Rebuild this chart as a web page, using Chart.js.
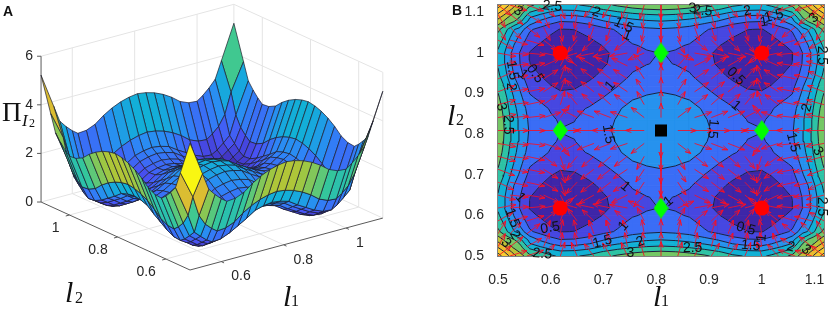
<!DOCTYPE html>
<html>
<head>
<meta charset="utf-8">
<title>Potential surface and contours</title>
<script src="https://cdn.jsdelivr.net/npm/chart.js@4"></script>
<style>
  html, body { margin: 0; padding: 0; background: #fff; }
  #wrap { position: relative; width: 829px; height: 309px; overflow: hidden; }
  canvas { position: absolute; top: 0; }
  #surfaceChart { left: 0; }
  #contourChart { left: 440px; }
</style>
</head>
<body>
<div id="wrap">
  <canvas id="surfaceChart" width="440" height="309"></canvas>
  <canvas id="contourChart" width="389" height="309"></canvas>
</div>
<script>
// --- Data ---
// l values of one quarter of the grid, the rest mirrors around 0.809
const lNodes = [0.5, 0.51, 0.52, 0.53, 0.54, 0.56, 0.58, 0.6, 0.618, 0.645, 0.673, 0.7, 0.727, 0.755, 0.782, 0.809];
const zQuarter = [
  [5.22, 4.90, 4.54, 4.16, 3.82, 3.12, 2.83, 2.59, 2.42, 2.45, 2.60, 2.87, 3.08, 3.24, 3.34, 3.39],
  [4.90, 4.58, 4.22, 3.84, 3.50, 2.80, 2.51, 2.27, 2.10, 2.13, 2.28, 2.55, 2.76, 2.92, 3.02, 3.07],
  [4.54, 4.22, 3.85, 3.47, 3.30, 2.42, 2.12, 1.87, 1.70, 1.73, 1.88, 2.15, 2.36, 2.52, 2.62, 2.67],
  [4.16, 3.84, 3.47, 3.30, 3.05, 2.04, 1.74, 1.49, 1.32, 1.35, 1.50, 1.77, 1.98, 2.14, 2.24, 2.29],
  [3.82, 3.50, 3.30, 3.05, 2.70, 1.85, 1.43, 1.19, 1.02, 1.05, 1.20, 1.47, 1.68, 1.84, 1.94, 1.99],
  [3.12, 2.80, 2.42, 2.04, 1.85, 1.08, 0.84, 0.62, 0.48, 0.51, 0.66, 0.86, 1.06, 1.30, 1.40, 1.45],
  [2.83, 2.51, 2.12, 1.74, 1.43, 0.84, 0.64, 0.44, 0.32, 0.35, 0.50, 0.70, 0.90, 1.14, 1.24, 1.29],
  [2.59, 2.27, 1.87, 1.49, 1.19, 0.62, 0.44, 0.25, 0.14, 0.17, 0.32, 0.52, 0.72, 0.96, 1.06, 1.11],
  [2.42, 2.10, 1.70, 1.32, 1.02, 0.48, 0.32, 0.14, 0.04, 0.07, 0.22, 0.42, 0.62, 0.86, 0.96, 1.01],
  [2.45, 2.13, 1.73, 1.35, 1.05, 0.51, 0.35, 0.17, 0.07, 0.10, 0.25, 0.45, 0.65, 0.89, 0.99, 1.04],
  [2.60, 2.28, 1.88, 1.50, 1.20, 0.66, 0.50, 0.32, 0.22, 0.25, 0.40, 0.60, 0.80, 1.04, 1.14, 1.19],
  [2.87, 2.55, 2.15, 1.77, 1.47, 0.86, 0.70, 0.52, 0.42, 0.45, 0.60, 0.80, 1.00, 1.24, 1.34, 1.39],
  [3.08, 2.76, 2.36, 1.98, 1.68, 1.06, 0.90, 0.72, 0.62, 0.65, 0.80, 1.00, 1.20, 1.44, 1.54, 1.59],
  [3.24, 2.92, 2.52, 2.14, 1.84, 1.30, 1.14, 0.96, 0.86, 0.89, 1.04, 1.24, 1.44, 1.68, 1.78, 1.83],
  [3.34, 3.02, 2.62, 2.24, 1.94, 1.40, 1.24, 1.06, 0.96, 0.99, 1.14, 1.34, 1.54, 1.78, 1.88, 1.93],
  [3.39, 3.07, 2.67, 2.29, 1.99, 1.45, 1.29, 1.11, 1.01, 1.04, 1.19, 1.39, 1.59, 1.83, 1.93, 1.98]
];
// the mesh of panel A only uses these rows of the table
const meshRows = [0, 4, 5, 6, 7, 8, 9, 10, 11, 12, 13, 14, 15];
const contourLevels = [0.5, 1, 1.5, 2, 2.5, 3, 3.5, 4, 4.5, 5];
const arrowNodes = [0.5, 0.5228, 0.5546, 0.5864, 0.6182, 0.65, 0.6818, 0.7136, 0.7454, 0.7772, 0.809,
  0.8408, 0.8726, 0.9044, 0.9362, 0.968, 0.9998, 1.0316, 1.0634, 1.0952, 1.118];
const minima = [[0.618, 0.618], [1, 0.618], [0.618, 1], [1, 1]];
const saddles = [[0.809, 0.618], [0.809, 1], [0.618, 0.809], [1, 0.809]];
const centerPoint = [[0.809, 0.809]];
const axisTicksB = [0.5, 0.6, 0.7, 0.8, 0.9, 1, 1.1];
const axisTicksA = [0.6, 0.8, 1];
const zTicksA = [0, 2, 4, 6];
const contourLabels = [
  ['3', 0.538, 1.103, 35], ['2.5', 0.603, 1.115, 5], ['2', 0.686, 1.1, 20], ['1.5', 0.738, 1.068, 25],
  ['1', 0.745, 1.043, 20], ['3', 0.869, 1.11, -5], ['2.5', 0.888, 1.103, 5], ['2', 0.973, 1.103, -10],
  ['1.5', 1.023, 1.091, -15], ['1', 1.004, 1.076, -10], ['3', 1.099, 1.086, -45], ['2.5', 1.114, 0.994, 90],
  ['0.5', 0.57, 0.949, 55], ['0.5', 0.951, 0.942, 45], ['1', 0.548, 0.947, 40], ['1.5', 0.527, 0.957, 80],
  ['2', 0.525, 0.917, 90], ['3', 0.506, 0.867, 75], ['2.5', 0.519, 0.823, 90], ['1.5', 0.709, 0.8, 80],
  ['1.5', 0.907, 0.813, 95], ['1', 0.713, 0.919, -50], ['1', 0.951, 0.87, 40], ['2', 1.086, 0.865, -75],
  ['1.5', 1.059, 0.78, 75], ['3', 1.106, 0.758, 60], ['1', 0.741, 0.671, 40], ['1', 0.823, 0.634, -40],
  ['1', 0.542, 0.644, 50], ['1.5', 0.527, 0.594, 70], ['2', 0.532, 0.552, 60], ['3', 0.515, 0.532, 50],
  ['0.5', 0.599, 0.569, -10], ['2.5', 0.584, 0.505, 5], ['1', 0.738, 0.574, -50], ['1.5', 0.698, 0.535, -15],
  ['2', 0.77, 0.535, -20], ['3', 0.751, 0.507, 0], ['2.5', 0.869, 0.52, 0], ['0.5', 0.97, 0.567, 15],
  ['1', 1, 0.545, -85], ['1.5', 0.979, 0.525, 5], ['2', 1.055, 0.522, 15], ['3', 1.084, 0.515, 40],
  ['2.5', 1.114, 0.622, 90]
];

const LMIN = 0.5, LMAX = 1.118, ZTOP = 6;
const sansFont = '"Liberation Sans", Arial, sans-serif';
const serifFont = '"Liberation Serif", serif';

// --- Grid helpers ---
const fullL = lNodes.concat(lNodes.slice(0, -1).reverse().map(v => +(1.618 - v).toFixed(3)));
const mirror = i => (i < lNodes.length ? i : fullL.length - 1 - i);
const zAt = (i, j) => zQuarter[mirror(i)][mirror(j)];
const meshIdx = meshRows.concat(meshRows.slice(0, -1).reverse().map(i => fullL.length - 1 - i));

function parula(t) {
  const stops = ['#3e26a8', '#4852f4', '#2d87f7', '#11b1d6', '#37c897', '#abc739', '#eaba30', '#fccf30', '#f9fb0e'];
  const p = Math.max(0, Math.min(1, t)) * (stops.length - 1);
  const k = Math.min(Math.floor(p), stops.length - 2);
  const hex = s => [1, 3, 5].map(n => parseInt(s.substr(n, 2), 16));
  const a = hex(stops[k]), b = hex(stops[k + 1]);
  const c = a.map((v, n) => Math.round(v + (b[n] - v) * (p - k)));
  return `rgb(${c[0]},${c[1]},${c[2]})`;
}
const colorOf = z => parula(z / 5.3);

function smoothZ(l1, l2) {
  // value of the table inside a cell, used for the arrow directions
  const find = v => {
    let k = 0;
    while (k < fullL.length - 2 && fullL[k + 1] < v) k++;
    return k;
  };
  const i = find(l1), j = find(l2);
  const u = (l1 - fullL[i]) / (fullL[i + 1] - fullL[i]);
  const v = (l2 - fullL[j]) / (fullL[j + 1] - fullL[j]);
  return zAt(i, j) * (1 - u) * (1 - v) + zAt(i + 1, j) * u * (1 - v) + zAt(i, j + 1) * (1 - u) * v + zAt(i + 1, j + 1) * u * v;
}

// --- Panel A: projection of the box ---
function project(l1, l2, z) {
  return {
    x: 190 + (l1 - LMIN) * 312 - (l2 - LMIN) * 241,
    y: 270 - (l1 - LMIN) * 84 - (l2 - LMIN) * 110 - z * 24.3
  };
}
function pathSet(points, color, width) {
  return { data: points, showLine: true, borderColor: color, borderWidth: width, pointRadius: 0, fill: false };
}
function buildSurfaceDatasets() {
  const sets = [];
  const gridColor = '#e4e4e4';
  // walls and floor
  axisTicksA.forEach(t => {
    sets.push(pathSet([project(t, LMAX, 0), project(t, LMAX, ZTOP)], gridColor, 1));
    sets.push(pathSet([project(LMAX, t, 0), project(LMAX, t, ZTOP)], gridColor, 1));
    sets.push(pathSet([project(t, LMIN, 0), project(t, LMAX, 0)], gridColor, 1));
    sets.push(pathSet([project(LMIN, t, 0), project(LMAX, t, 0)], gridColor, 1));
  });
  zTicksA.forEach(z => {
    sets.push(pathSet([project(LMIN, LMAX, z), project(LMAX, LMAX, z), project(LMAX, LMIN, z)], gridColor, 1));
  });
  sets.push(pathSet([project(LMAX, LMAX, 0), project(LMAX, LMAX, ZTOP)], gridColor, 1));
  sets.push(pathSet([project(LMAX, LMIN, 0), project(LMAX, LMIN, ZTOP)], gridColor, 1));
  // axes
  const axisColor = '#5a5a5a';
  sets.push(pathSet([project(LMIN, LMAX, 0), project(LMIN, LMIN, 0), project(LMAX, LMIN, 0)], axisColor, 1));
  sets.push(pathSet([project(LMIN, LMAX, 0), project(LMIN, LMAX, ZTOP)], axisColor, 1));
  axisTicksA.forEach(t => {
    sets.push(pathSet([project(t, LMIN, 0), project(t, LMIN - 0.012, 0)], axisColor, 1));
    sets.push(pathSet([project(LMIN, t, 0), project(LMIN - 0.012, t, 0)], axisColor, 1));
  });
  zTicksA.forEach(z => {
    const p = project(LMIN, LMAX, z);
    sets.push(pathSet([p, { x: p.x - 4, y: p.y }], axisColor, 1));
  });
  // surface, back corner first so the nearer faces cover it
  for (let a = meshIdx.length - 2; a >= 0; a--) {
    for (let b = meshIdx.length - 2; b >= 0; b--) {
      const i0 = meshIdx[a], i1 = meshIdx[a + 1], j0 = meshIdx[b], j1 = meshIdx[b + 1];
      const corners = [
        project(fullL[i0], fullL[j0], zAt(i0, j0)),
        project(fullL[i1], fullL[j0], zAt(i1, j0)),
        project(fullL[i1], fullL[j1], zAt(i1, j1)),
        project(fullL[i0], fullL[j1], zAt(i0, j1))
      ];
      corners.push(corners[0]);
      sets.push({
        data: corners, showLine: true, fill: 'shape', backgroundColor: colorOf(zAt(i0, j0)),
        borderColor: '#1c1c2c', borderWidth: 0.7, pointRadius: 0
      });
    }
  }
  return sets.reverse();
}

const surfaceText = {
  id: 'surfaceText',
  afterDatasetsDraw(chart) {
    const { ctx } = chart;
    ctx.save();
    ctx.fillStyle = '#262626';
    ctx.font = '14px ' + sansFont;
    ctx.textBaseline = 'middle';
    ctx.textAlign = 'left';
    axisTicksA.forEach(t => {
      const p = project(t, LMIN, 0);
      ctx.fillText(String(t), p.x + 10, p.y + 15);
    });
    ctx.textAlign = 'right';
    axisTicksA.forEach(t => {
      const p = project(LMIN, t, 0);
      ctx.fillText(String(t), p.x - 10, p.y + 13.5);
    });
    zTicksA.forEach(z => {
      const p = project(LMIN, LMAX, z);
      ctx.fillText(String(z), p.x - 8, p.y);
    });
    ctx.textBaseline = 'alphabetic';
    ctx.textAlign = 'left';
    ctx.fillStyle = '#111';
    ctx.font = 'bold 14px ' + sansFont;
    ctx.fillText('A', 3, 16);
    ctx.font = '27px ' + serifFont;
    ctx.fillText('\u03A0', 2, 121);
    ctx.font = 'italic 17px ' + serifFont;
    ctx.fillText('I', 22, 126);
    ctx.font = '12px ' + serifFont;
    ctx.fillText('2', 29, 127);
    ctx.font = 'italic 30px ' + serifFont;
    ctx.fillText('l', 65, 302);
    ctx.fillText('l', 283, 306);
    ctx.font = '16px ' + serifFont;
    ctx.fillText('2', 75, 303);
    ctx.fillText('1', 291, 306);
    ctx.restore();
  }
};

new Chart(document.getElementById('surfaceChart'), {
  type: 'scatter',
  data: { datasets: buildSurfaceDatasets() },
  options: {
    responsive: false,
    animation: false,
    events: [],
    layout: { padding: 0 },
    plugins: { legend: { display: false }, tooltip: { enabled: false } },
    scales: {
      x: { type: 'linear', min: 0, max: 440, display: false },
      y: { type: 'linear', min: 0, max: 309, reverse: true, display: false }
    }
  },
  plugins: [surfaceText]
});

// --- Panel B: filled contours from the same table ---
function clipPoly(poly, level, above) {
  const out = [];
  const inside = p => (above ? p[2] >= level : p[2] < level);
  poly.forEach((p, n) => {
    const q = poly[(n + 1) % poly.length];
    if (inside(p)) out.push(p);
    if (inside(p) !== inside(q)) {
      const t = (level - p[2]) / (q[2] - p[2]);
      out.push([p[0] + (q[0] - p[0]) * t, p[1] + (q[1] - p[1]) * t, level]);
    }
  });
  return out;
}
function buildContourDatasets() {
  const sets = [];
  const bands = [0].concat(contourLevels);
  const n = fullL.length - 1;
  bands.forEach((lo, b) => {
    const hi = b + 1 < bands.length ? bands[b + 1] : 99;
    const color = b === 0 ? parula(0) : colorOf(lo);
    for (let i = 0; i < n; i++) {
      for (let j = 0; j < n; j++) {
        let poly = [
          [fullL[i], fullL[j], zAt(i, j)],
          [fullL[i + 1], fullL[j], zAt(i + 1, j)],
          [fullL[i + 1], fullL[j + 1], zAt(i + 1, j + 1)],
          [fullL[i], fullL[j + 1], zAt(i, j + 1)]
        ];
        poly = clipPoly(clipPoly(poly, lo, true), hi, false);
        if (poly.length < 3) continue;
        const pts = poly.map(p => ({ x: p[0], y: p[1] }));
        pts.push(pts[0]);
        sets.push({
          data: pts, showLine: true, fill: 'shape', backgroundColor: color,
          borderColor: color, borderWidth: 0.8, pointRadius: 0
        });
      }
    }
  });
  // contour lines
  contourLevels.forEach(level => {
    const pts = [];
    for (let i = 0; i < n; i++) {
      for (let j = 0; j < n; j++) {
        const c = [
          [fullL[i], fullL[j], zAt(i, j)],
          [fullL[i + 1], fullL[j], zAt(i + 1, j)],
          [fullL[i + 1], fullL[j + 1], zAt(i + 1, j + 1)],
          [fullL[i], fullL[j + 1], zAt(i, j + 1)]
        ];
        const cross = [];
        c.forEach((p, k) => {
          const q = c[(k + 1) % 4];
          if ((p[2] >= level) !== (q[2] >= level)) {
            const t = (level - p[2]) / (q[2] - p[2]);
            cross.push({ x: p[0] + (q[0] - p[0]) * t, y: p[1] + (q[1] - p[1]) * t });
          }
        });
        for (let k = 0; k + 1 < cross.length; k += 2) {
          pts.push(cross[k], cross[k + 1], { x: NaN, y: NaN });
        }
      }
    }
    sets.push({ data: pts, showLine: true, fill: false, borderColor: '#1b2040', borderWidth: 1, pointRadius: 0 });
  });
  // arrows follow the downhill direction of the table
  const arrowPts = [];
  const pxX = 527, pxY = 406;
  arrowNodes.forEach(l1 => {
    arrowNodes.forEach(l2 => {
      const d = 0.004;
      const gx = smoothZ(Math.min(l1 + d, LMAX), l2) - smoothZ(Math.max(l1 - d, LMIN), l2);
      const gy = smoothZ(l1, Math.min(l2 + d, LMAX)) - smoothZ(l1, Math.max(l2 - d, LMIN));
      const len = Math.hypot(gx, gy);
      if (len < 1e-6) return;
      const tipX = l1 - gx / len * 0.035, tipY = l2 - gy / len * 0.035;
      const ang = Math.atan2((l2 - tipY) * pxY, (l1 - tipX) * pxX);
      const wing = s => ({
        x: tipX + Math.cos(ang + s * 0.35) * 6 / pxX,
        y: tipY + Math.sin(ang + s * 0.35) * 6 / pxY
      });
      arrowPts.push({ x: l1, y: l2 }, { x: tipX, y: tipY }, wing(1), { x: tipX, y: tipY }, wing(-1), { x: NaN, y: NaN });
    });
  });
  sets.push({ data: arrowPts, showLine: true, fill: false, borderColor: 'rgba(245,15,40,0.85)', borderWidth: 1, pointRadius: 0 });

  const diamond = document.createElement('canvas');
  diamond.width = 15;
  diamond.height = 21;
  const dc = diamond.getContext('2d');
  dc.fillStyle = '#00ff00';
  dc.beginPath();
  dc.moveTo(7.5, 0);
  dc.lineTo(15, 10.5);
  dc.lineTo(7.5, 21);
  dc.lineTo(0, 10.5);
  dc.closePath();
  dc.fill();

  const asPts = list => list.map(p => ({ x: p[0], y: p[1] }));
  sets.push({ data: asPts(minima), pointStyle: 'circle', pointRadius: 7.5, backgroundColor: '#ff0000', borderWidth: 0, pointBorderWidth: 0 });
  sets.push({ data: asPts(saddles), pointStyle: diamond, pointRadius: 8, pointBorderWidth: 0 });
  sets.push({ data: asPts(centerPoint), pointStyle: 'rect', pointRadius: 8.5, backgroundColor: '#000', pointBorderWidth: 0 });
  return sets.reverse();
}

const contourText = {
  id: 'contourText',
  afterDatasetsDraw(chart) {
    const { ctx, chartArea, scales } = chart;
    ctx.save();
    ctx.strokeStyle = '#808080';
    ctx.lineWidth = 1;
    ctx.strokeRect(chartArea.left - 0.5, chartArea.top - 0.5, chartArea.width + 1, chartArea.height + 1);
    ctx.fillStyle = '#111';
    ctx.font = '14px ' + sansFont;
    ctx.textAlign = 'center';
    ctx.textBaseline = 'middle';
    contourLabels.forEach(([txt, l1, l2, rot]) => {
      ctx.save();
      ctx.translate(scales.x.getPixelForValue(l1), scales.y.getPixelForValue(l2));
      ctx.rotate(rot * Math.PI / 180);
      ctx.fillText(txt, 0, 0);
      ctx.restore();
    });
    ctx.textAlign = 'left';
    ctx.textBaseline = 'alphabetic';
    ctx.font = 'bold 14px ' + sansFont;
    ctx.fillText('B', 12, 15);
    ctx.font = 'italic 30px ' + serifFont;
    ctx.fillText('l', 213, 306);
    ctx.fillText('l', 7, 125);
    ctx.font = '16px ' + serifFont;
    ctx.fillText('1', 221, 306);
    ctx.fillText('2', 16, 125);
    ctx.restore();
  }
};

const tickCfg = {
  color: '#262626',
  font: { family: 'Liberation Sans', size: 14 },
  autoSkip: false,
  maxRotation: 0,
  callback: v => String(v)
};
// no room for half labels at the ends of the axes, the frame sits at fixed pixels
const dropPadding = s => { s.paddingTop = s.paddingBottom = s.paddingLeft = s.paddingRight = 0; };
new Chart(document.getElementById('contourChart'), {
  type: 'scatter',
  data: { datasets: buildContourDatasets() },
  options: {
    responsive: false,
    animation: false,
    events: [],
    layout: { autoPadding: false, padding: { top: 5, right: 5, left: 0, bottom: 0 } },
    plugins: { legend: { display: false }, tooltip: { enabled: false } },
    scales: {
      x: {
        type: 'linear', min: LMIN, max: LMAX,
        grid: { display: false }, border: { display: false },
        ticks: { ...tickCfg, padding: 8 },
        afterBuildTicks: s => { s.ticks = axisTicksB.map(value => ({ value })); },
        afterFit: s => { s.height = 53; dropPadding(s); }
      },
      y: {
        type: 'linear', min: LMIN, max: LMAX,
        grid: { display: false }, border: { display: false },
        ticks: { ...tickCfg, padding: 6 },
        afterBuildTicks: s => { s.ticks = axisTicksB.map(value => ({ value })); },
        afterFit: s => { s.width = 58; dropPadding(s); }
      }
    }
  },
  plugins: [contourText]
});
</script>
</body>
</html>
